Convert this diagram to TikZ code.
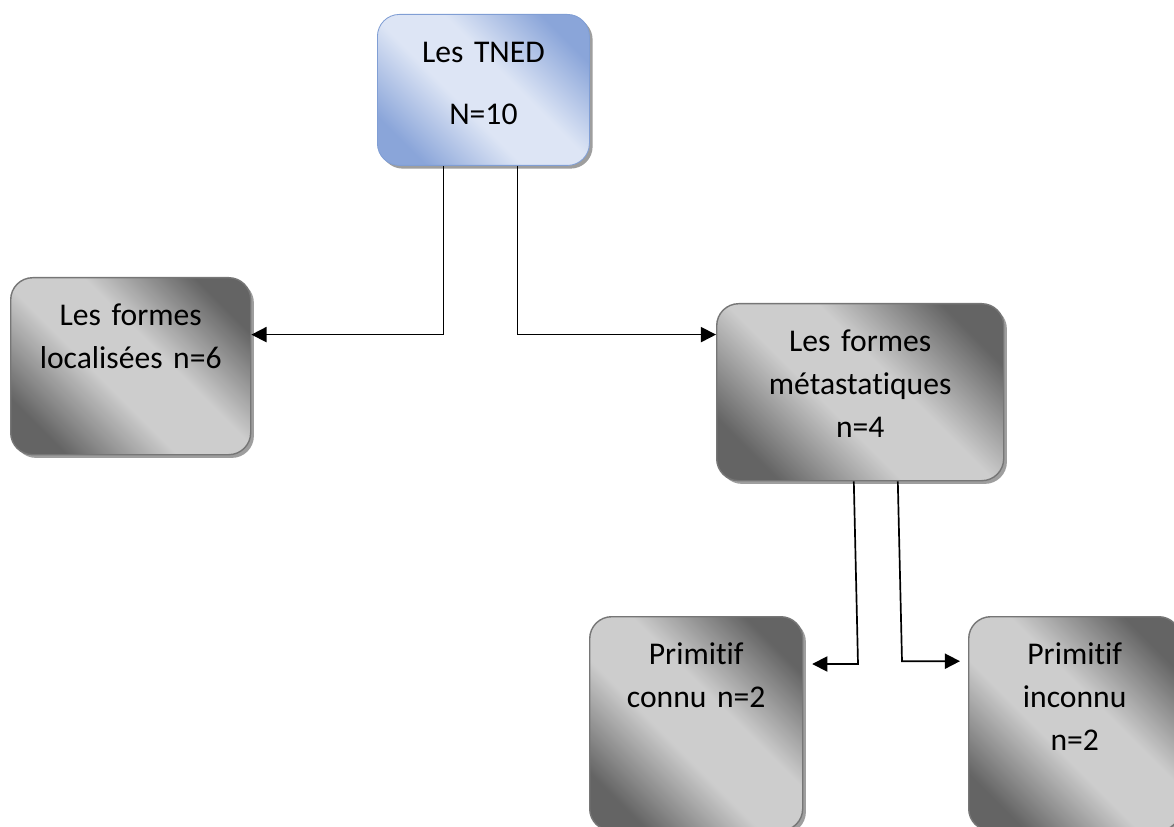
\documentclass[tikz,border=0pt]{standalone}
\usepackage{fontspec}
\setmainfont{Carlito}[Ligatures=NoCommon]
\usepackage{tikz}
\usetikzlibrary{positioning,calc,shadows,arrows.meta}

\definecolor{bluedark}{RGB}{138,165,217}
\definecolor{bluelight}{RGB}{221,229,245}
\definecolor{blueedge}{RGB}{128,158,212}
\definecolor{greydark}{RGB}{100,100,100}
\definecolor{greylight}{RGB}{205,205,205}
\definecolor{greyedge}{RGB}{118,118,118}

% diagonal bands, light in the middle
\pgfdeclareverticalshading{greyband}{100bp}{color(0bp)=(greydark); color(24bp)=(greydark); color(43bp)=(greylight); color(57bp)=(greylight); color(76bp)=(greydark); color(100bp)=(greydark)}
\pgfdeclareverticalshading{blueband}{100bp}{color(0bp)=(bluedark); color(24bp)=(bluedark); color(43bp)=(bluelight); color(57bp)=(bluelight); color(76bp)=(bluedark); color(100bp)=(bluedark)}

\begin{document}
\begin{tikzpicture}[
    block/.style={rectangle, rounded corners=0.55cm, draw=greyedge, line width=1pt,
        inner sep=0pt, align=center, anchor=north west, text height=1.2cm,
        font=\fontsize{22.5}{30.5}\selectfont,
        shade, shading=greyband, shading angle=135,
        drop shadow={shadow xshift=0.08cm, shadow yshift=-0.08cm, fill=gray!85, opacity=0.9}},
    topblock/.style={block, draw=blueedge, line width=0.6pt, shading=blueband},
    link/.style={line width=1.2pt, -{Triangle[length=0.38cm,width=0.38cm]}}
]
    \useasboundingbox (0,0) rectangle (29.35,-20.675);

    \node[topblock, text width=5.3cm, text depth=2.575cm] (TNED) at (9.425,-0.35) {Les TNED\\[14pt]N=10};
    \node[block, text width=6cm, text depth=3.225cm] (Loc) at (0.25,-6.925) {Les formes\\localisées n=6};
    \node[block, text width=7.175cm, text depth=3.225cm] (Meta) at (17.9,-7.575) {Les formes\\métastatiques\\n=4};
    \node[block, text width=5.325cm, text depth=4.15cm] (PrimC) at (14.725,-15.4) {Primitif\\connu n=2};
    \node[block, text width=5.3cm, text depth=4.15cm] (PrimI) at (24.2,-15.4) {Primitif\\inconnu\\n=2};

    % first level
    \draw[link] ([xshift=-1cm]TNED.south) |- ([yshift=0.79cm]Loc.east);
    \draw[link] ([xshift=0.85cm]TNED.south) |- ([yshift=1.44cm]Meta.west);

    % second level
    \coordinate (bendC) at (21.45,-16.6);
    \coordinate (bendI) at (22.55,-16.53);
    \draw[link] ([xshift=-0.16cm]Meta.south) -- (bendC) -- ($(bendC -| PrimC.east)+(0.22,0)$);
    \draw[link] ([xshift=0.94cm]Meta.south) -- (bendI) -- ($(bendI -| PrimI.west)+(-0.2,0)$);

\end{tikzpicture}
\end{document}
